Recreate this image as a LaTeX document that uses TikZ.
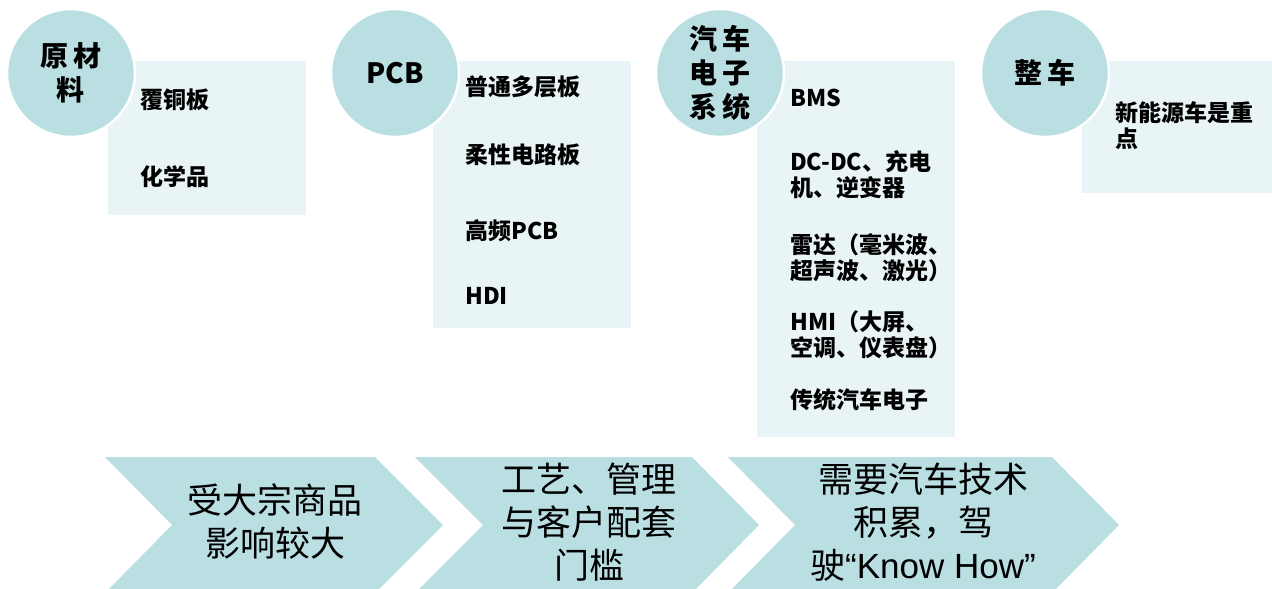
\documentclass[tikz,border=0pt]{standalone}
\usepackage{fontspec}
\newfontfamily\cjk{Noto Sans CJK SC}
\newfontfamily\lat{Liberation Sans}
\definecolor{circfill}{HTML}{BADFE3}
\definecolor{boxfill}{HTML}{E8F4F5}
\definecolor{chevfill}{HTML}{BADFE3}
\begin{document}
\begin{tikzpicture}[x=1pt,y=-1pt,
  circ/.style={circle,fill=circfill,draw=white,line width=2.5pt,minimum size=128pt,inner sep=0pt,align=center,
    font=\cjk\bfseries\fontsize{28}{34}\selectfont},
  panel/.style={fill=boxfill,draw=none},
  item/.style={anchor=west,align=left,inner sep=0pt,font=\cjk\bfseries\fontsize{23}{26}\selectfont},
  chev/.style={fill=chevfill,draw=none},
  chevtext/.style={align=center,inner sep=0pt,font=\cjk\fontsize{35}{43}\selectfont}]
\useasboundingbox (0,0) rectangle (1272,589);
% panels
\path[panel] (108,61) rectangle (306,215);
\path[panel] (433,61) rectangle (631,328);
\path[panel] (757,61) rectangle (955,437);
\path[panel] (1082,61) rectangle (1272,193);
% circles
\node[circ] (c1) at (71,73) {原\,材\\料};
\node[circ] (c2) at (395,73) {PCB};
\node[circ] (c3) at (720,73) {汽\,车\\电\,子\\系\,统};
\node[circ] (c4) at (1045,73) {整\,车};
% items
\node[item] (i11) at (140,100) {覆铜板};
\node[item] (i12) at (140,177) {化学品};
\node[item] (i21) at (465,87) {普通多层板};
\node[item] (i22) at (465,155) {柔性电路板};
\node[item] (i23) at (465,231) {高频PCB};
\node[item] (i24) at (465,296) {HDI};
\node[item] (i31) at (790,98) {BMS};
\node[item] (i32) at (790,175) {DC-DC、充电\\机、逆变器};
\node[item] (i33) at (790,258) {雷达（毫米波、\\超声波、激光）};
\node[item] (i34) at (790,335) {HMI（大屏、\\空调、仪表盘）};
\node[item] (i35) at (790,400) {传统汽车电子};
\node[item] (i41) at (1115,126) {新能源车是重\\点};
% chevrons
\path[chev] (105,457) -- (375,457) -- (443,525) -- (375,593) -- (105,593) -- (172,525) -- cycle;
\path[chev] (415,457) -- (692,457) -- (759,525) -- (692,593) -- (415,593) -- (483,525) -- cycle;
\path[chev] (728,457) -- (1052,457) -- (1119,525) -- (1052,593) -- (728,593) -- (795,525) -- cycle;
\node[chevtext] (h1) at (275,522) {受大宗商品\\影响较大};
\node[chevtext] (h2) at (589,522) {工艺、管理\\与客户配套\\门槛};
\node[chevtext] (h3) at (923,522) {需要汽车技术\\积累，驾\\驶{\lat “Know How”}};
\end{tikzpicture}
\end{document}
